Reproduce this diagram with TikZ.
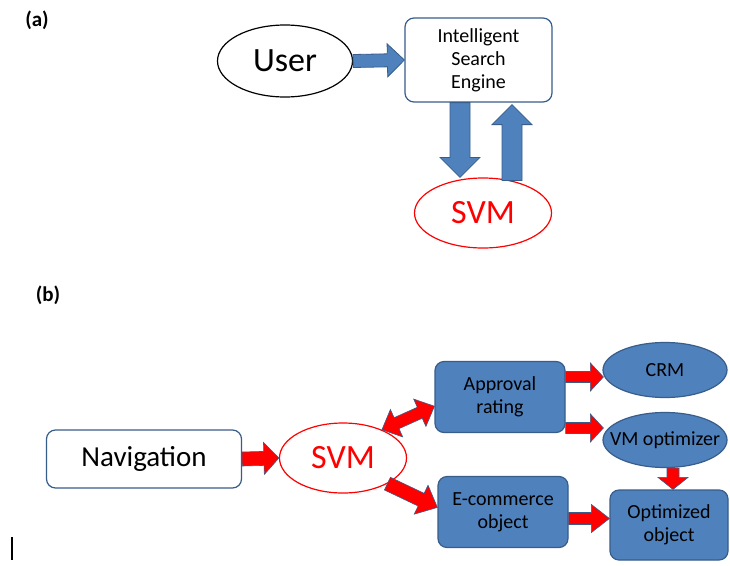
\documentclass[tikz,border=0pt]{standalone}
\usepackage{fontspec}
\setmainfont{Carlito}
\usetikzlibrary{calc,shapes.geometric}
\definecolor{obl}{HTML}{4F81BD}
\definecolor{obd}{HTML}{385D8A}
\definecolor{ored}{HTML}{FF0000}
\newcommand\blockarr[6]{%
  \coordinate (ba) at ($(#3)!#6!(#2)$);
  \path[#1] ($(#2)!#4!90:(#3)$) -- ($(ba)!#4!90:(#3)$) -- ($(ba)!#5!90:(#3)$) -- (#3)
    -- ($(ba)!#5!-90:(#3)$) -- ($(ba)!#4!-90:(#3)$) -- ($(#2)!#4!-90:(#3)$) -- cycle;}
\newcommand\dblockarr[6]{%
  \coordinate (ba) at ($(#3)!#6!(#2)$);
  \coordinate (bb) at ($(#2)!#6!(#3)$);
  \path[#1] (#2) -- ($(bb)!#5!90:(#3)$) -- ($(bb)!#4!90:(#3)$) -- ($(ba)!#4!90:(#3)$) -- ($(ba)!#5!90:(#3)$) -- (#3)
    -- ($(ba)!#5!-90:(#3)$) -- ($(ba)!#4!-90:(#3)$) -- ($(bb)!#4!-90:(#3)$) -- ($(bb)!#5!-90:(#3)$) -- cycle;}
\tikzset{
  txt/.style={font=\fontsize{20}{23}\selectfont, align=center, inner sep=0pt},
  big/.style={font=\fontsize{34}{38}\selectfont, inner sep=0pt},
  oval/.style={ellipse, draw, line width=1.2pt, inner sep=0pt},
  wbox/.style={rectangle, rounded corners=9pt, draw=obd, fill=white, line width=1.2pt},
  bbox/.style={rectangle, rounded corners=9pt, draw=obd, fill=obl, line width=1.2pt},
  boval/.style={ellipse, draw=obd, fill=obl, line width=1.2pt, inner sep=0pt},
  bluearr/.style={fill=obl, draw=obd, line width=0.8pt, line join=miter},
  redarr/.style={fill=ored, draw=obd, line width=0.6pt, line join=miter},
  lab/.style={font=\fontsize{21}{24}\selectfont\bfseries, inner sep=0pt}
}
\begin{document}
\begin{tikzpicture}[x=1pt,y=-1pt]
\useasboundingbox[fill=white] (0,0) rectangle (730,565);
% (a)
\node[lab] (la) at (37,20) {(a)};
\node[oval, draw=black, minimum width=135pt, minimum height=72pt] (user) at (285,61) {};
\node[big] at (user) {User};
\node[wbox, txt, minimum width=147pt, minimum height=84pt] (ise) at (478.5,60) {Intelligent\\Search\\Engine};
\node[oval, draw=ored, minimum width=137pt, minimum height=70pt] (svma) at (483,213) {};
\node[big, text=ored] at (svma) {SVM};
\blockarr{bluearr}{user.east}{ise.west}{6.5pt}{16.5pt}{17pt}
\coordinate (d1) at ($(ise.south)+(-18.5,0)$);
\coordinate (d2) at (d1 |- svma.north);
\blockarr{bluearr}{d1}{d2}{10pt}{20pt}{20pt}
\coordinate (u2) at ($(ise.south)+(33.5,2)$);
\coordinate (u1) at ($(svma.north)+(29,3)$);
\coordinate (u1b) at (u2 |- u1);
\blockarr{bluearr}{u1b}{u2}{10pt}{20pt}{20pt}
% (b)
\node[lab] (lb) at (48,295) {(b)};
\node[wbox, minimum width=195pt, minimum height=58pt, font=\fontsize{29}{32}\selectfont] (nav) at (144,459) {Navigation};
\node[oval, draw=ored, minimum width=127pt, minimum height=70pt] (svmb) at (343,458) {};
\node[big, text=ored] at (svmb) {SVM};
\node[bbox, txt, minimum width=130pt, minimum height=71pt] (appr) at (500,397) {Approval\\rating};
\node[bbox, txt, minimum width=130pt, minimum height=71pt] (ecom) at (503,512) {E-commerce\\object};
\node[boval, minimum width=124pt, minimum height=55pt] (crm) at (665,370) {};
\node[txt] at (crm) {CRM};
\node[boval, minimum width=124pt, minimum height=55pt] (vm) at (665,440) {};
\node[txt] at (vm) {VM optimizer};
\node[bbox, txt, minimum width=118pt, minimum height=70pt] (opt) at (669,525) {Optimized\\object};
% red arrows
\blockarr{redarr}{nav.east}{svmb.west}{7pt}{16pt}{15pt}
\dblockarr{redarr}{svmb.36}{appr.188}{6pt}{15pt}{16pt}
\blockarr{redarr}{svmb.-30}{ecom.176}{7pt}{16pt}{18pt}
\coordinate (c1) at ($(appr.east)+(0,-20)$);
\coordinate (c2) at ($(crm.west |- c1)+(1,0)$);
\blockarr{redarr}{c1}{c2}{5.5pt}{14pt}{13pt}
\coordinate (v1) at ($(appr.east)+(0,31)$);
\coordinate (v2) at ($(vm.west |- v1)+(1,0)$);
\blockarr{redarr}{v1}{v2}{5.5pt}{14pt}{13pt}
\coordinate (o1) at ($(vm.south)+(8,0)$);
\coordinate (o2) at (o1 |- opt.north);
\blockarr{redarr}{o1}{o2}{6pt}{15pt}{12pt}
\coordinate (m) at ($(ecom.east)!0.5!(ecom.east |- opt.west)$);
\coordinate (e1) at (ecom.east |- m);
\coordinate (e2) at (opt.west |- m);
\blockarr{redarr}{e1}{e2}{6pt}{14pt}{18pt}
% cursor mark
\coordinate (k1) at (12,537);
\coordinate (k2) at (12,560);
\draw[line width=2pt] (k1) -- (k2);
\end{tikzpicture}
\end{document}
